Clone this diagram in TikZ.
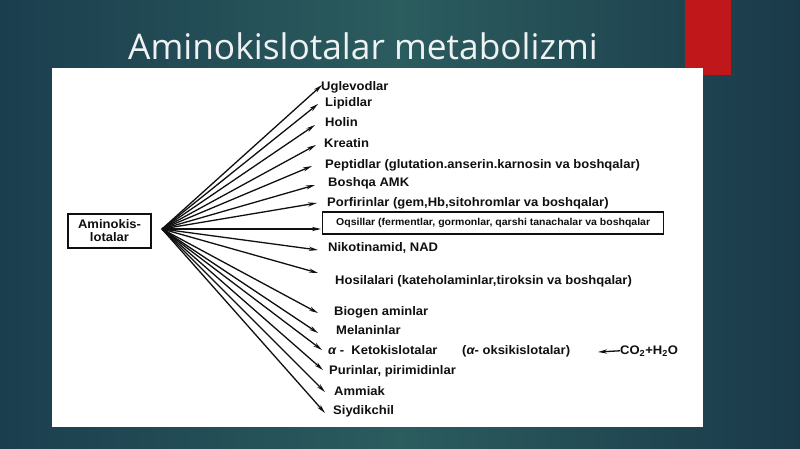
\documentclass[tikz,border=0pt]{standalone}
\usepackage{fontspec}
\usetikzlibrary{arrows.meta}
\newfontfamily\titlefont{Open Sans}
\newfontfamily\dfont{Liberation Sans}[FakeStretch=1.05]
\definecolor{bgL}{HTML}{1B3E4E}
\definecolor{bgM}{HTML}{2B5C5E}
\definecolor{bgR}{HTML}{1A3A4A}
\definecolor{accent}{HTML}{C0171A}
\definecolor{ink}{HTML}{101010}
\tikzset{
  lbl/.style={anchor=mid west, inner sep=0pt, text=ink, font=\dfont\bfseries\fontsize{12.4}{14}\selectfont},
  arr/.style={draw=ink, line width=1.3pt, -{Stealth[length=9pt,width=4.2pt]}},
  boxed/.style={draw=ink, line width=1.3pt, inner sep=0pt}
}
\newcommand{\galpha}{{\itshape α}}
\begin{document}
\begin{tikzpicture}[x=1pt,y=-1pt]
\useasboundingbox (0,0) rectangle (800,449);
% background
\shade[left color=bgL, right color=bgR, middle color=bgM] (0,0) rectangle (800,449);
\fill[accent] (685,0) rectangle (731,75);
\fill[white] (52,68) rectangle (703,427);
% title
\node[anchor=base west, inner sep=0pt, text=white!92!bgM, font=\titlefont\fontsize{35.3}{40}\selectfont] (title) at (128,60) {Aminokislotalar metabolizmi};
% source box
\node[boxed, minimum width=83pt, minimum height=34pt, align=center, font=\dfont\bfseries\fontsize{12.4}{13}\selectfont, text=ink] (src) at (109.5,231) {Aminokis-\\lotalar};
\coordinate (o) at (162,229);
% labels
\node[lbl] (l1) at (321,88) {Uglevodlar};
\node[lbl] (l2) at (325,104) {Lipidlar};
\node[lbl] (l3) at (325,124) {Holin};
\node[lbl] (l4) at (324,145) {Kreatin};
\node[lbl] (l5) at (325,166) {Peptidlar (glutation.anserin.karnosin va boshqalar)};
\node[lbl] (l6) at (328,184) {Boshqa AMK};
\node[lbl] (l7) at (327,204) {Porfirinlar (gem,Hb,sitohromlar va boshqalar)};
\node[boxed, anchor=west, minimum width=341pt, minimum height=22pt, text=ink, font=\dfont\bfseries\fontsize{10}{11}\selectfont] (l8) at (322,223) {Oqsillar (fermentlar, gormonlar, qarshi tanachalar va boshqalar};
\node[lbl] (l9) at (328,249) {Nikotinamid, NAD};
\node[lbl] (l10) at (335,282) {Hosilalari (kateholaminlar,tiroksin va boshqalar)};
\node[lbl] (l11) at (334,313) {Biogen aminlar};
\node[lbl] (l12) at (336,332) {Melaninlar};
\node[lbl] (l13) at (328,352) {\galpha\ -\ \ Ketokislotalar};
\node[lbl] (l13b) at (462,352) {(\galpha- oksikislotalar)};
\node[lbl] (co2) at (620,352) {CO\textsubscript{2}+H\textsubscript{2}O};
\coordinate (co2end) at (598,352);
\node[lbl] (l14) at (329,372) {Purinlar, pirimidinlar};
\node[lbl] (l15) at (334,393) {Ammiak};
\node[lbl] (l16) at (333,412) {Siydikchil};
% arrow tips
\coordinate (t1) at (322,85);
\coordinate (t2) at (318,104);
\coordinate (t3) at (315,125);
\coordinate (t4) at (316,145);
\coordinate (t5) at (312,166);
\coordinate (t6) at (315,185);
\coordinate (t7) at (317,203);
\coordinate (t8) at (321,229);
\coordinate (t9) at (318,250);
\coordinate (t10) at (318,273);
\coordinate (t11) at (318,313);
\coordinate (t12) at (318,333);
\coordinate (t13) at (322,350);
\coordinate (t14) at (323,370);
\coordinate (t15) at (325,392);
\coordinate (t16) at (325,413);
\foreach \i in {1,...,16} {\draw[arr] (o) -- (t\i);}
\draw[arr] (co2.west) -- (co2end);
\end{tikzpicture}
\end{document}
